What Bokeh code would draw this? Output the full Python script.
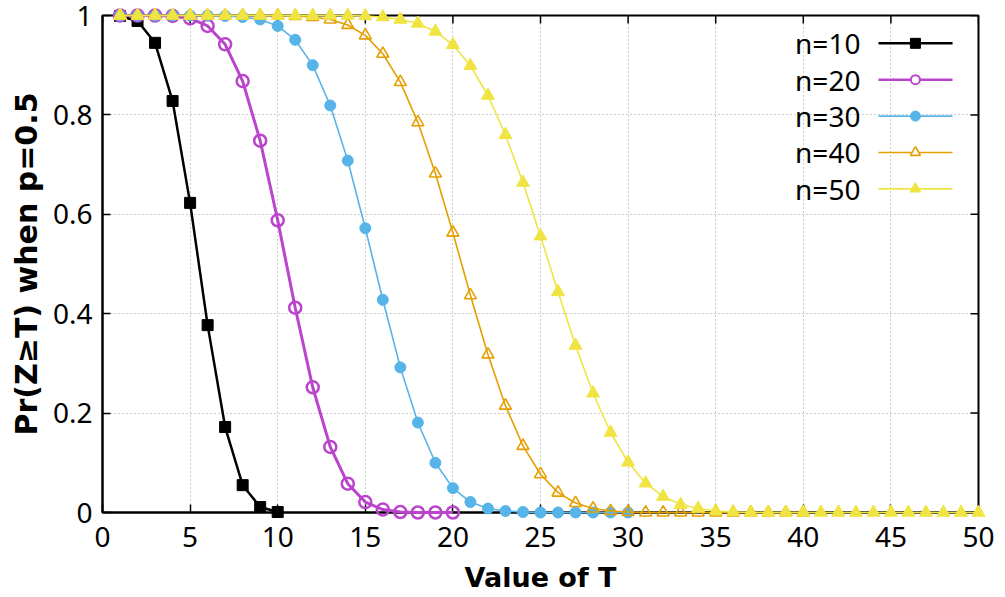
from bokeh.plotting import figure
from bokeh.models import Range1d, FixedTicker, NumeralTickFormatter
from bokeh.core.properties import value
from bokeh.embed import file_html
from bokeh.resources import INLINE

# ---- data ----
T = [1, 2, 3, 4, 5, 6, 7, 8, 9, 10,
     11, 12, 13, 14, 15, 16, 17, 18, 19, 20,
     21, 22, 23, 24, 25, 26, 27, 28, 29, 30,
     31, 32, 33, 34, 35, 36, 37, 38, 39, 40,
     41, 42, 43, 44, 45, 46, 47, 48, 49, 50]

p_n10 = [0.999, 0.989, 0.945, 0.828, 0.623, 0.377, 0.172, 0.055, 0.011, 0.001]

p_n20 = [1.000, 1.000, 1.000, 0.999, 0.994, 0.979, 0.942, 0.868, 0.748, 0.588,
         0.412, 0.252, 0.132, 0.058, 0.021, 0.006, 0.001, 0.000, 0.000, 0.000]

p_n30 = [1.000, 1.000, 1.000, 1.000, 1.000, 1.000, 0.999, 0.997, 0.992, 0.979,
         0.951, 0.900, 0.819, 0.708, 0.572, 0.428, 0.292, 0.181, 0.100, 0.049,
         0.021, 0.008, 0.003, 0.001, 0.000, 0.000, 0.000, 0.000, 0.000, 0.000]

p_n40 = [1.000, 1.000, 1.000, 1.000, 1.000, 1.000, 1.000, 1.000, 1.000, 1.000,
         0.999, 0.997, 0.992, 0.981, 0.960, 0.923, 0.866, 0.785, 0.682, 0.563,
         0.437, 0.318, 0.215, 0.134, 0.077, 0.040, 0.019, 0.008, 0.003, 0.001,
         0.000, 0.000, 0.000, 0.000, 0.000, 0.000, 0.000, 0.000, 0.000, 0.000]

p_n50 = [1.000, 1.000, 1.000, 1.000, 1.000, 1.000, 1.000, 1.000, 1.000, 1.000,
         1.000, 1.000, 1.000, 1.000, 0.999, 0.997, 0.992, 0.984, 0.968, 0.941,
         0.899, 0.839, 0.760, 0.664, 0.556, 0.444, 0.336, 0.240, 0.161, 0.101,
         0.059, 0.032, 0.016, 0.008, 0.003, 0.001, 0.000, 0.000, 0.000, 0.000,
         0.000, 0.000, 0.000, 0.000, 0.000, 0.000, 0.000, 0.000, 0.000, 0.000]

series_labels = ["n=10", "n=20", "n=30", "n=40", "n=50"]
series_values = [p_n10, p_n20, p_n30, p_n40, p_n50]

x_ticks = [0, 5, 10, 15, 20, 25, 30, 35, 40, 45, 50]
y_ticks = [0, 0.2, 0.4, 0.6, 0.8, 1]
X_MIN, X_MAX, Y_MIN, Y_MAX = 0, 50, 0, 1

# ---- styles ----
styles = [
    dict(color="#000000", lw=2.5, marker="square", size=11, fill=True, mlw=1, leg_size=10, leg_lw=2.5, leg_mlw=1),
    dict(color="#bb44cc", lw=3.0, marker="circle", size=12, fill=False, mlw=2.5, leg_size=9, leg_lw=2.5, leg_mlw=2),
    dict(color="#56b4e9", lw=1.6, marker="circle", size=11, fill=True, mlw=1, leg_size=10, leg_lw=1.6, leg_mlw=1),
    dict(color="#e69f00", lw=1.6, marker="triangle", size=12, fill=False, mlw=1.6, leg_size=10, leg_lw=1.6, leg_mlw=1.6),
    dict(color="#f0e442", lw=1.6, marker="triangle", size=13, fill=True, mlw=1, leg_size=11, leg_lw=1.6, leg_mlw=1),
]

TICK_FONT = "Noto Sans"
TICK_FS = "28px"
LABEL_FONT = "DejaVu Sans"

W, H = 1005, 597
BL, BR, BT, BB = 102, 27, 15, 85
FRAME_W, FRAME_H = W - BL - BR, H - BT - BB
TICK_LEN = 8

p = figure(width=W, height=H, output_backend="svg", toolbar_location=None,
           x_range=Range1d(X_MIN, X_MAX), y_range=Range1d(Y_MIN, Y_MAX),
           min_border_left=BL, min_border_right=BR, min_border_top=BT, min_border_bottom=BB)

p.background_fill_color = "white"
p.border_fill_color = "white"
p.outline_line_color = "black"
p.outline_line_width = 2
p.outline_line_alpha = 1

for ax, ticks in ((p.xaxis, x_ticks), (p.yaxis, y_ticks)):
    ax.ticker = FixedTicker(ticks=ticks)
    ax.major_tick_in = TICK_LEN
    ax.major_tick_out = 0
    ax.minor_tick_line_color = None
    ax.axis_line_width = 2
    ax.axis_line_color = "black"
    ax.major_tick_line_width = 1.5
    ax.major_tick_line_color = "black"
    ax.major_label_text_font = TICK_FONT
    ax.major_label_text_font_size = TICK_FS
    ax.major_label_text_color = "black"
    ax.axis_label_text_font = LABEL_FONT
    ax.axis_label_text_font_style = "bold"
    ax.axis_label_text_color = "black"

p.xaxis.axis_label_text_font_size = "27px"
p.yaxis.axis_label_text_font_size = "30px"
p.xaxis.formatter = NumeralTickFormatter(format="0")
p.yaxis.formatter = NumeralTickFormatter(format="0.[0]")
p.xaxis.axis_label = "Value of T"
p.yaxis.axis_label = "Pr(Z≥T) when p=0.5"
p.xaxis.major_label_standoff = 14
p.xaxis.axis_label_standoff = 12
p.yaxis.major_label_standoff = 10
p.yaxis.axis_label_standoff = 6

for g in (p.xgrid, p.ygrid):
    g.grid_line_color = "#9a9a9a"
    g.grid_line_dash = "1 3"
    g.grid_line_width = 1
p.xgrid.ticker = FixedTicker(ticks=x_ticks)
p.ygrid.ticker = FixedTicker(ticks=y_ticks)

# mirrored ticks on the top and right borders (gnuplot style)
dy_tick = TICK_LEN / FRAME_H * (Y_MAX - Y_MIN)
dx_tick = TICK_LEN / FRAME_W * (X_MAX - X_MIN)
p.segment(x0=x_ticks, y0=[Y_MAX] * len(x_ticks), x1=x_ticks, y1=[Y_MAX - dy_tick] * len(x_ticks),
          line_color="black", line_width=1.5)
p.segment(x0=[X_MAX] * len(y_ticks), y0=y_ticks, x1=[X_MAX - dx_tick] * len(y_ticks), y1=y_ticks,
          line_color="black", line_width=1.5)

# ---- series ----
for vals, st in zip(series_values, styles):
    xs = T[:len(vals)]
    p.line(xs, vals, line_color=st["color"], line_width=st["lw"], level="overlay")
    p.scatter(xs, vals, marker=st["marker"], size=st["size"],
              line_color=st["color"], line_width=st["mlw"],
              fill_color=st["color"] if st["fill"] else None, level="overlay")

# ---- legend (text then sample, gnuplot style) ----
leg_text_x = 43.26
leg_line_x0, leg_line_x1 = 44.29, 48.52
leg_marker_x = 46.40
leg_y0, leg_dy = 0.944, 0.0732
for i, (lab, st) in enumerate(zip(series_labels, styles)):
    yy = leg_y0 - i * leg_dy
    p.text(x=[leg_text_x], y=[yy], text=[lab], text_font=value(TICK_FONT),
           text_font_size=TICK_FS, text_align="right", text_baseline="middle",
           text_color="black")
    p.line([leg_line_x0, leg_line_x1], [yy, yy], line_color=st["color"], line_width=st["leg_lw"])
    p.scatter([leg_marker_x], [yy], marker=st["marker"], size=st["leg_size"],
              line_color=st["color"], line_width=st["leg_mlw"],
              fill_color=st["color"] if st["fill"] else "white")

open("out.html", "w").write(file_html(p, INLINE))
